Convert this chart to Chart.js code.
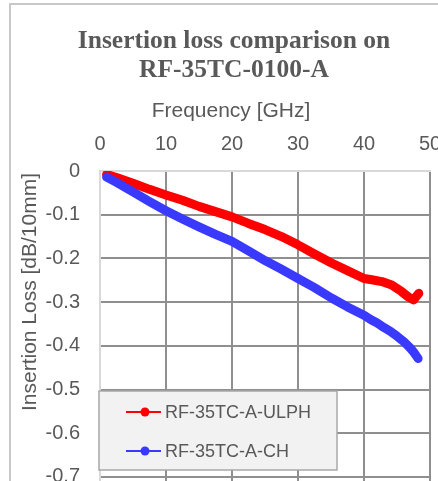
<!DOCTYPE html>
<html><head><meta charset="utf-8">
<script src="https://cdn.jsdelivr.net/npm/chart.js@4/dist/chart.umd.min.js"></script>
<style>
html,body{margin:0;padding:0;overflow:hidden;background:#fff;width:438px;height:481px;}
#frame{position:absolute;left:9px;top:3px;width:460px;height:620px;border:2px solid #c8c8c8;box-sizing:border-box;}
#c{position:absolute;left:0;top:0;}
</style></head><body>
<div id="frame"></div>
<canvas id="c" width="468" height="560"></canvas>
<script>
const titleLines = ['Insertion loss comparison on', 'RF-35TC-0100-A'];
const xAxisTitle = 'Frequency [GHz]';
const yAxisTitle = 'Insertion Loss [dB/10mm]';
const xTicks = [0, 10, 20, 30, 40, 50];
const yTicks = [0, -0.1, -0.2, -0.3, -0.4, -0.5, -0.6, -0.7, -0.8];
const seriesNames = ['RF-35TC-A-ULPH', 'RF-35TC-A-CH'];

const ulphFreq = [1, 2.5, 5, 7.5, 10, 12.5, 15, 17.5, 20, 22.5, 25, 27.5, 30, 32.5, 35, 37.5, 40, 41.2, 42.7, 44.2, 45.7, 46.7, 47.5, 48.3];
const ulphLoss = [-0.008, -0.015, -0.028, -0.042, -0.055, -0.067, -0.081, -0.093, -0.105, -0.120, -0.134, -0.150, -0.169, -0.190, -0.210, -0.228, -0.246, -0.249, -0.253, -0.261, -0.276, -0.288, -0.295, -0.280];

const chFreq = [1, 2.5, 5, 7.5, 10, 12.5, 15, 17.5, 20, 22.5, 25, 27.5, 30, 32.5, 35, 37.5, 40, 41, 42, 43, 44, 45, 46, 47, 47.5, 48.2];
const chLoss = [-0.014, -0.026, -0.048, -0.070, -0.091, -0.110, -0.128, -0.145, -0.161, -0.183, -0.205, -0.225, -0.246, -0.267, -0.290, -0.311, -0.330, -0.340, -0.348, -0.358, -0.367, -0.378, -0.390, -0.405, -0.414, -0.429];

const seriesColors = ['#ff0000', '#3a3aff'];
const TEXT = '#595959';
const SANS = "'Liberation Sans', Arial, sans-serif";
const SERIF = "'Liberation Serif', 'Times New Roman', serif";

const decor = {
  id: 'decor',
  afterDraw(chart) {
    const ctx = chart.ctx;
    ctx.save();
    // main title
    ctx.fillStyle = TEXT;
    ctx.font = 'bold 25.5px ' + SERIF;
    ctx.textAlign = 'center';
    ctx.textBaseline = 'alphabetic';
    ctx.fillText(titleLines[0], 234, 48);
    ctx.fillText(titleLines[1], 234, 77);
    // x axis title
    ctx.font = '21px ' + SANS;
    ctx.fillText(xAxisTitle, 231, 117);
    // y axis title
    ctx.save();
    ctx.translate(35.5, 292);
    ctx.rotate(-Math.PI / 2);
    ctx.fillText(yAxisTitle, 0, 0);
    ctx.restore();
    // legend box
    ctx.fillStyle = '#f2f2f2';
    ctx.fillRect(99, 391, 238, 79);
    ctx.strokeStyle = '#a8a8a8';
    ctx.lineWidth = 1.5;
    ctx.strokeRect(99, 391, 238, 79);
    const rows = [412, 451];
    chart.data.datasets.forEach((ds, i) => {
      const y = rows[i];
      ctx.strokeStyle = ds.borderColor;
      ctx.lineWidth = 2;
      ctx.beginPath();
      ctx.moveTo(126, y);
      ctx.lineTo(161, y);
      ctx.stroke();
      ctx.fillStyle = ds.borderColor;
      ctx.beginPath();
      ctx.arc(145, y, 4.5, 0, Math.PI * 2);
      ctx.fill();
      ctx.fillStyle = TEXT;
      ctx.font = '18px ' + SANS;
      ctx.textAlign = 'left';
      ctx.textBaseline = 'middle';
      ctx.fillText(ds.label, 165, y + 1);
    });
    ctx.restore();
  }
};

const gridColor = c => (c.tick && c.tick.value === 0) ? 'rgba(0,0,0,0)' : '#8f8f8f';

new Chart(document.getElementById('c'), {
  type: 'line',
  data: {
    datasets: [
      {
        label: seriesNames[0],
        data: ulphFreq.map((f, i) => ({x: f, y: ulphLoss[i]})),
        borderColor: seriesColors[0],
        backgroundColor: seriesColors[0],
        borderWidth: 9,
        pointRadius: 0,
        borderCapStyle: 'round',
        borderJoinStyle: 'round',
        order: 1
      },
      {
        label: seriesNames[1],
        data: chFreq.map((f, i) => ({x: f, y: chLoss[i]})),
        borderColor: seriesColors[1],
        backgroundColor: seriesColors[1],
        borderWidth: 9,
        pointRadius: 0,
        borderCapStyle: 'round',
        borderJoinStyle: 'round',
        order: 0
      }
    ]
  },
  options: {
    responsive: false,
    animation: false,
    devicePixelRatio: 1,
    layout: {padding: {top: 0, left: 0, right: 38, bottom: 39.4}},
    plugins: {legend: {display: false}, title: {display: false}, tooltip: {enabled: false}},
    scales: {
      x: {
        type: 'linear',
        position: 'top',
        min: 0, max: 50,
        afterBuildTicks: s => { s.ticks = xTicks.map(v => ({value: v})); },
        afterFit: s => { s.height = 171; },
        grid: {color: gridColor, lineWidth: 2, drawTicks: false},
        border: {color: '#d9d9d9', width: 2},
        ticks: {padding: 15, color: TEXT, font: {family: SANS, size: 20}, maxRotation: 0, autoSkip: false,
                callback: v => String(v)}
      },
      y: {
        type: 'linear',
        min: -0.8, max: 0,
        afterBuildTicks: s => { s.ticks = yTicks.map(v => ({value: v})); },
        afterFit: s => { s.width = 100; },
        grid: {color: gridColor, lineWidth: 2, drawTicks: false},
        border: {color: '#d9d9d9', width: 2},
        ticks: {padding: 20, color: TEXT, font: {family: SANS, size: 20}, autoSkip: false,
                callback: v => String(v)}
      }
    }
  },
  plugins: [decor]
});
</script>
</body></html>
